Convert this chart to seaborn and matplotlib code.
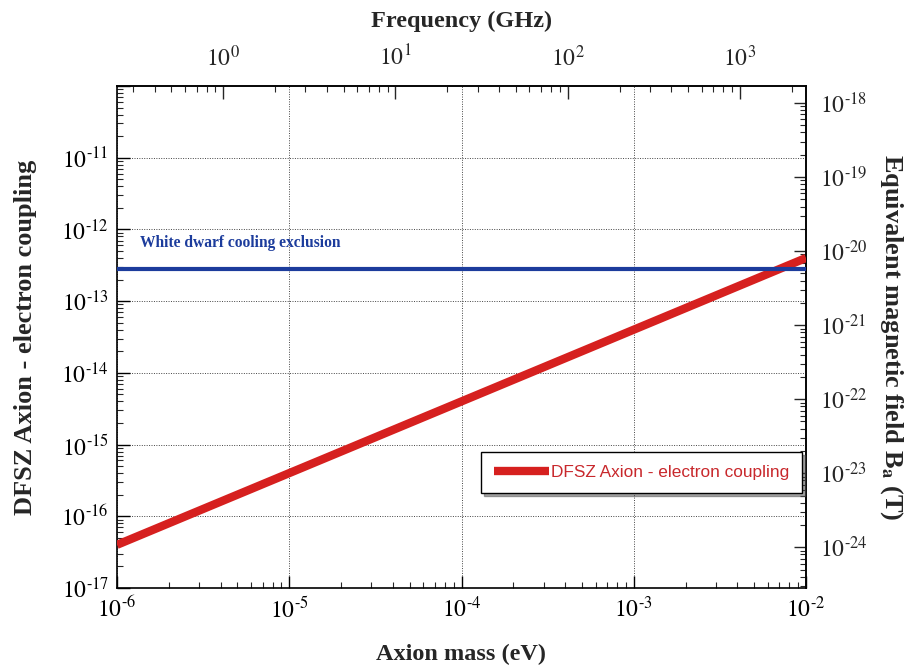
import numpy as np
import pandas as pd
import matplotlib
matplotlib.use("Agg")
import matplotlib.pyplot as plt
import seaborn as sns
from matplotlib.ticker import LogLocator, NullFormatter, FuncFormatter, FixedLocator

# ---- data ----
axion_mass_ev = [1e-6, 1e-2]              # eV
dfsz_coupling = [4e-17, 4e-13]            # g_ae
wd_mass_ev = [1e-6, 1e-2]
wd_limit = [2.8e-13, 2.8e-13]
ev_to_ghz = 2.418e5                       # frequency (GHz) per eV
freq_ticks = [1, 10, 100, 1000]
coupling_ticks = [1e-17, 1e-16, 1e-15, 1e-14, 1e-13, 1e-12, 1e-11]
field_ticks = [1e-24, 1e-23, 1e-22, 1e-21, 1e-20, 1e-19, 1e-18]
mass_ticks = [1e-6, 1e-5, 1e-4, 1e-3, 1e-2]
# log-log map between coupling axis and field axis
field_slope = 0.9686
field_offset = -8.084

legend_label = "DFSZ Axion - electron coupling"
wd_label = "White dwarf cooling exclusion"

sns.set_theme(style="white")
plt.rcParams["font.family"] = ["Liberation Serif", "DejaVu Serif"]
plt.rcParams["mathtext.fontset"] = "stix"


def pow_fmt(v, pos=None):
    e = int(round(np.log10(v)))
    if e < 0:
        return r"$10^{\text{-}%d}$" % (-e)
    return r"$10^{%d}$" % e


fmt = FuncFormatter(pow_fmt)

fig = plt.figure(figsize=(9.15, 6.69), dpi=100)
ax = fig.add_axes([117/915, 1-588/669, (806-117)/915, (588-86)/669])

df = pd.DataFrame({"mass": axion_mass_ev, "g": dfsz_coupling})
dfw = pd.DataFrame({"mass": wd_mass_ev, "g": wd_limit})

sns.lineplot(data=df, x="mass", y="g", ax=ax, color="#d6201f", linewidth=6.0,
             label=legend_label, zorder=3, solid_capstyle="butt")
sns.lineplot(data=dfw, x="mass", y="g", ax=ax, color="#1c3c9c", linewidth=3.0,
             zorder=4, legend=False, solid_capstyle="butt")

ax.set_xscale("log")
ax.set_yscale("log")
ax.set_xlim(1e-6, 1e-2)
ax.set_ylim(1e-17, 1e-10)

ax.xaxis.set_major_locator(FixedLocator(mass_ticks))
ax.xaxis.set_minor_locator(LogLocator(base=10, subs=np.arange(2, 10), numticks=50))
ax.yaxis.set_major_locator(FixedLocator(coupling_ticks + [1e-10]))
ax.yaxis.set_minor_locator(LogLocator(base=10, subs=np.arange(2, 10), numticks=50))
ax.xaxis.set_major_formatter(fmt)
ax.yaxis.set_major_formatter(FuncFormatter(lambda v, p: pow_fmt(v) if v < 5e-11 else ""))
ax.xaxis.set_minor_formatter(NullFormatter())
ax.yaxis.set_minor_formatter(NullFormatter())

ax.grid(True, which="major", color="#444444", linestyle=(0, (1, 1.5)), linewidth=0.7)
ax.tick_params(which="major", direction="in", length=9, width=1.0, labelsize=17,
               pad=6, colors="black")
ax.tick_params(which="minor", direction="in", length=4.5, width=0.8)
ax.tick_params(axis="both", which="both", bottom=True, left=True, top=False, right=False)
for s in ax.spines.values():
    s.set_color("black")
    s.set_linewidth(1.2)

ax.set_xlabel("Axion mass (eV)", fontsize=17.5, fontweight="bold", labelpad=16)
ax.set_ylabel("DFSZ Axion - electron coupling", fontsize=19, fontweight="bold", labelpad=17)

# top frequency axis
secx = ax.secondary_xaxis("top", functions=(lambda m: m*ev_to_ghz, lambda f: f/ev_to_ghz))
secx.xaxis.set_major_locator(FixedLocator(freq_ticks))
secx.xaxis.set_major_formatter(fmt)
minor_f = [k*10.0**d for d in range(-1, 4) for k in range(2, 10)
           if 1e-6*ev_to_ghz < k*10.0**d < 1e-2*ev_to_ghz]
secx.xaxis.set_minor_locator(FixedLocator(minor_f))
secx.xaxis.set_minor_formatter(NullFormatter())
secx.tick_params(which="major", direction="in", length=9, width=1.0, labelsize=17, pad=11)
secx.tick_params(which="minor", direction="in", length=4.5, width=0.8)
secx.set_xlabel("Frequency (GHz)", fontsize=17.5, fontweight="bold", labelpad=13)

# right magnetic field axis
secy = ax.secondary_yaxis(
    "right",
    functions=(lambda g: 10.0**(field_slope*np.log10(g) + field_offset),
               lambda b: 10.0**((np.log10(b) - field_offset)/field_slope)))
secy.yaxis.set_major_locator(FixedLocator(field_ticks))
secy.yaxis.set_major_formatter(fmt)
minor_b = [k*10.0**d for d in range(-25, -17) for k in range(2, 10)]
secy.yaxis.set_minor_locator(FixedLocator(minor_b))
secy.yaxis.set_minor_formatter(NullFormatter())
secy.tick_params(which="major", direction="in", length=9, width=1.0, labelsize=17, pad=10)
secy.tick_params(which="minor", direction="in", length=4.5, width=0.8)
secy.set_ylabel(r"Equivalent magnetic field B$_{\mathbf{a}}$ (T)", fontsize=19,
                fontweight="bold", rotation=270, labelpad=27)

ax.text(0.033, 0.688, wd_label, transform=ax.transAxes, fontsize=11.2,
        fontweight="bold", color="#1c3c9c", va="center", ha="left")

leg = ax.legend(loc="upper right", bbox_to_anchor=(0.994, 0.271), frameon=True,
                fancybox=False, shadow=True, edgecolor="black", framealpha=1,
                prop={"family": "Liberation Sans", "size": 12.4}, labelcolor="#c8282c",
                handlelength=3.2, handletextpad=0.1, borderpad=0.75, borderaxespad=0)
leg.get_frame().set_linewidth(1.0)

fig.savefig("out.png", dpi=100)
